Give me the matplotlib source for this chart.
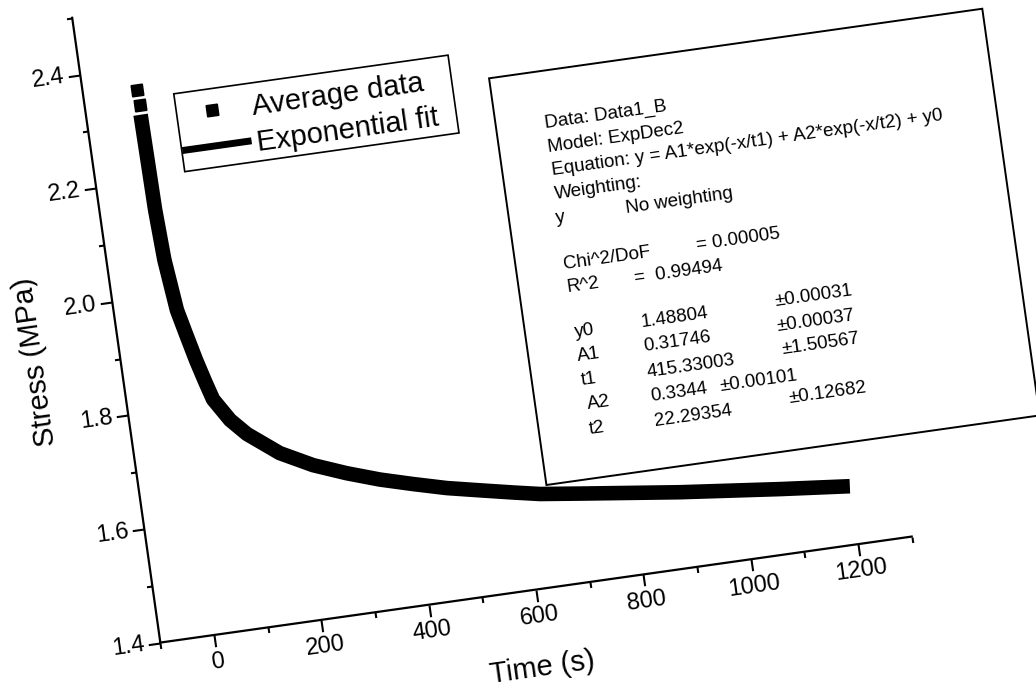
import numpy as np
import matplotlib
matplotlib.use("Agg")
import matplotlib.pyplot as plt
from matplotlib.transforms import Affine2D
from matplotlib.patches import Rectangle
from matplotlib.ticker import FormatStrFormatter
from mpl_toolkits.axisartist import floating_axes
from mpl_toolkits.axisartist.grid_finder import FixedLocator

plt.rcParams["font.family"] = ["Liberation Sans", "DejaVu Sans"]

# ---------------------------------------------------------
# data read off the (scanned, tilted) figure
# ---------------------------------------------------------
# first separate squares of the averaged data
avg_time = [0, 1]
avg_stress = [2.360, 2.333]

# the thick band = dense average data + ExpDec2 fit
fit_time = [0, 1, 2, 6, 16, 26, 38, 49, 59, 85, 112, 167, 225, 284, 343,
            403, 463, 523, 584, 632, 705, 888, 1072, 1200]
fit_stress = [2.316, 2.237, 2.149, 2.060, 1.970, 1.928, 1.879, 1.840, 1.807,
              1.767, 1.739, 1.698, 1.669, 1.647, 1.628, 1.612, 1.597, 1.585,
              1.573, 1.564, 1.555, 1.533, 1.514, 1.502]

x_major = [0, 200, 400, 600, 800, 1000, 1200]
x_minor = [-100, 100, 300, 500, 700, 900, 1100, 1300]
y_major = [1.4, 1.6, 1.8, 2.0, 2.2, 2.4]
y_minor = [1.5, 1.7, 1.9, 2.1, 2.3, 2.5]
x_range = (-100, 1300)
y_range = (1.4, 2.5)

# fit report box: (text, along-box px, down-box px)
report = [
    ("Data: Data1_B", 48.5, 57),
    ("Model: ExpDec2", 48.5, 81),
    ("Equation: y = A1*exp(-x/t1) + A2*exp(-x/t2) + y0", 49, 105),
    ("Weighting:", 49, 129),
    ("y", 46, 152.5),
    ("No weighting", 117, 152.5),
    ("Chi^2/DoF", 48, 199.5),
    ("= 0.00005", 182, 199.5),
    ("R^2", 48, 223),
    ("=  0.99494", 116, 223),
    ("y0", 49, 268),
    ("1.48804", 116, 268),
    ("\u00b10.00031", 252, 265),
    ("A1", 49, 292),
    ("0.31746", 115.5, 292),
    ("\u00b10.00037", 250, 290),
    ("t1", 49, 317),
    ("415.33003", 115, 318),
    ("\u00b11.50567", 252, 314),
    ("A2", 52, 341),
    ("0.3344", 115.5, 342),
    ("\u00b10.00101", 185, 342),
    ("t2", 50, 366),
    ("22.29354", 115.5, 367),
    ("\u00b10.12682", 252, 363),
]

# ---------------------------------------------------------
# geometry of the scan (the whole plot is tilted ~8 deg)
# ---------------------------------------------------------
ANGLE = 8.03
PX_PER_S = 0.542
PX_PER_MPA = 573.6
W, H = 1036, 691
ORIGIN_PX = (214, 56)       # (0 s, 1.4 MPa) in figure pixels

tr = Affine2D().scale(PX_PER_S, PX_PER_MPA).rotate_deg(ANGLE)

# floating axes fit their limits to the rotated frame (+2 %), so size the
# axes box so that one unit of the host axes is one pixel
corners = tr.transform([[x_range[0], y_range[0]], [x_range[1], y_range[0]],
                        [x_range[1], y_range[1]], [x_range[0], y_range[1]]])
lo, hi = corners.min(axis=0), corners.max(axis=0)
ctr, half = (lo + hi) / 2, (hi - lo) / 2 * 1.02
lim_lo, lim_hi = ctr - half, ctr + half
anchor = tr.transform([0, y_range[0]])
left = ORIGIN_PX[0] - (anchor[0] - lim_lo[0])
bottom = ORIGIN_PX[1] - (anchor[1] - lim_lo[1])
rect = [left / W, bottom / H, (lim_hi[0] - lim_lo[0]) / W, (lim_hi[1] - lim_lo[1]) / H]


def make_helper(xt, yt):
    return floating_axes.GridHelperCurveLinear(
        tr, extremes=(x_range[0], x_range[1], y_range[0], y_range[1]),
        grid_locator1=FixedLocator(xt), grid_locator2=FixedLocator(yt),
        tick_formatter1=FormatStrFormatter("%d"),
        tick_formatter2=FormatStrFormatter("%.1f"))


fig = plt.figure(figsize=(W / 100, H / 100), dpi=100)

ax = fig.add_axes(rect, axes_class=floating_axes.FloatingAxes,
                  grid_helper=make_helper(x_major, y_major))
ax.axis["top"].set_visible(False)
ax.axis["right"].set_visible(False)
for name in ["left", "bottom"]:
    ax.axis[name].line.set_linewidth(1.6)
    ax.axis[name].major_ticks.set_tick_out(True)
    ax.axis[name].major_ticks.set_ticksize(8.5)
    ax.axis[name].major_ticks.set_markeredgewidth(1.5)
    ax.axis[name].major_ticklabels.set_fontsize(17)
    ax.axis[name].major_ticklabels.set_pad(3)

# minor ticks: a second, transparent floating axes on top
ax2 = fig.add_axes(rect, axes_class=floating_axes.FloatingAxes,
                   grid_helper=make_helper(x_minor, y_minor))
ax2.patch.set_visible(False)
ax2.axis["top"].set_visible(False)
ax2.axis["right"].set_visible(False)
for name in ["left", "bottom"]:
    ax2.axis[name].line.set_visible(False)
    ax2.axis[name].major_ticks.set_tick_out(True)
    ax2.axis[name].major_ticks.set_ticksize(4)
    ax2.axis[name].major_ticks.set_markeredgewidth(1.5)
    ax2.axis[name].major_ticklabels.set_visible(False)

aux = ax.get_aux_axes(tr)

# curve
aux.plot(fit_time, fit_stress, color="black", lw=10.5, solid_capstyle="butt",
         solid_joinstyle="round")
aux.plot(avg_time, avg_stress, ls="none", marker=(4, 0, 45 + ANGLE), ms=11.5,
         color="black")

# axis titles
aux.text(591, 1.250, "Time (s)", fontsize=21, rotation=ANGLE,
         rotation_mode="anchor", ha="center", va="baseline")
aux.text(-242, 1.916, "Stress (MPa)", fontsize=21, rotation=90 + ANGLE,
         rotation_mode="anchor", ha="center", va="baseline")

# legend (drawn by hand so it tilts with the scan)
aux.add_patch(Rectangle((66, 2.207), 511, 0.137, fc="white", ec="black",
                        lw=1.2, clip_on=False))
aux.plot([131], [2.306], ls="none", marker=(4, 0, 45 + ANGLE), ms=11.5,
         color="black", clip_on=False)
aux.text(205, 2.288, "Average data", fontsize=21, rotation=ANGLE,
         rotation_mode="anchor", ha="left", va="baseline")
aux.plot([67, 196], [2.244, 2.244], color="black", lw=5,
         solid_capstyle="butt", clip_on=False)
aux.text(205, 2.224, "Exponential fit", fontsize=21, rotation=ANGLE,
         rotation_mode="anchor", ha="left", va="baseline")

# fit report box
box_t0, box_t1 = 646, 1565
box_s0, box_s1 = 1.578, 2.294
aux.add_patch(Rectangle((box_t0, box_s0), box_t1 - box_t0, box_s1 - box_s0,
                        fc="white", ec="black", lw=1.4, clip_on=False))
for txt, u, v in report:
    aux.text(box_t0 + u / PX_PER_S, box_s1 - v / PX_PER_MPA, txt,
             fontsize=13.5, rotation=ANGLE, rotation_mode="anchor",
             ha="left", va="baseline")

fig.savefig("out.png", dpi=100)
